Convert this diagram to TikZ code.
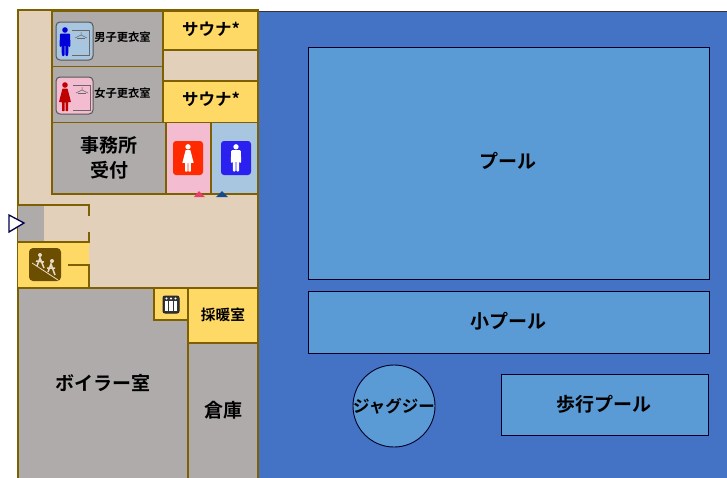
\documentclass[tikz,border=0pt]{standalone}
\usepackage{fontspec}
\setmainfont{Noto Sans CJK JP}[BoldFont={* Bold}]
\definecolor{wallc}{HTML}{7F6000}
\definecolor{floorc}{HTML}{E2D0BA}
\definecolor{greyc}{HTML}{AFABAB}
\definecolor{saunac}{HTML}{FFD966}
\definecolor{waterc}{HTML}{4472C4}
\definecolor{poolc}{HTML}{5B9BD5}
\definecolor{pinkc}{HTML}{F4BCD0}
\definecolor{paleblue}{HTML}{A9C6E0}
\definecolor{iconred}{HTML}{FF2A00}
\definecolor{iconblue}{HTML}{2A20F0}
\definecolor{stairc}{HTML}{6B4E00}
\definecolor{markpink}{HTML}{E8406E}
\definecolor{marknavy}{HTML}{124A8C}
\tikzset{
  room/.style = {draw=wallc, line width=1.3pt},
  greyroom/.style = {room, fill=greyc},
  yellowroom/.style = {room, fill=saunac},
  wall/.style = {draw=wallc, line width=1.3pt},
  pool/.style = {draw=black!85!blue, line width=.9pt, fill=poolc},
  big/.style = {font=\fontsize{19}{25}\selectfont\bfseries},
  mid/.style = {font=\fontsize{16.5}{20}\selectfont\bfseries},
  small/.style = {font=\fontsize{11.3}{13}\selectfont\bfseries},
  % standing figures, origin at the feet
  pics/manfig/.style = {code = {
    \fill[#1] (0,-26) circle (2.8);
    \fill[#1, rounded corners=1pt] (-5,-22.5) -- (5,-22.5) -- (5.5,-9) -- (3.6,-9) -- (3.4,-12) -- (3.2,0) -- (.5,0) -- (.4,-11) -- (-.4,-11) -- (-.5,0) -- (-3.2,0) -- (-3.4,-12) -- (-3.6,-9) -- (-5.5,-9) -- cycle;
  }},
  pics/womanfig/.style = {code = {
    \fill[#1] (0,-26) circle (2.8);
    \fill[#1, rounded corners=.5pt] (-2.5,-22.5) -- (2.5,-22.5) -- (6,-9) -- (3,-9) -- (3,0) -- (.5,0) -- (.5,-9) -- (-.5,-9) -- (-.5,0) -- (-3,0) -- (-3,-9) -- (-6,-9) -- cycle;
  }},
  % hanger and rail of the locker icons
  pics/rail/.style = {code = {
    \draw[greyc!60!black, line width=.7pt] (-17,-25) -- (0,-25) -- (0,0) -- (-17,0);
    \draw[greyc!60!black, line width=.5pt] (-14,-17) -- (-8,-20) -- (-2,-17) (-8,-20) -- (-8,-23);
    \draw[greyc!60!black, line width=.4pt] (-12,-17) -- (-4,-17);
  }}
}
\begin{document}
\begin{tikzpicture}[x=1pt, y=-1pt]
\useasboundingbox (0,0) rectangle (727,477);
\clip (0,0) rectangle (727,477);

% water hall
\fill[waterc] (258,11) rectangle (727,490);
\draw[black!80, line width=1pt] (258,11) -- (727,11);

% floor
\draw[room, fill=floorc] (18,10) rectangle (258,490);

% rooms along the top
\draw[greyroom] (52,11) rectangle (163,66.5);
\draw[greyroom] (52,66.5) rectangle (163,122.5);
\draw[yellowroom] (163,11) rectangle (258,50);
\draw[yellowroom] (163,81) rectangle (258,122.5);
\draw[greyroom] (52,122.5) rectangle (166,194);
\draw[room, fill=pinkc] (166,122.5) rectangle (211,194);
\draw[room, fill=paleblue] (211,122.5) rectangle (258,194);

% entrance
\fill[greyc] (18,205) rectangle (44,242);
\draw[wall] (18,205) -- (89,205) -- (89,216);
\draw[wall] (89,232) -- (89,242) -- (18,242);
\draw[draw=black!70!blue, line width=1.3pt, fill=white] (9,215) -- (24,223) -- (9,232) -- cycle;

% stairs
\fill[saunac] (18,243) rectangle (89,288);
\draw[wall] (68,265) -- (89,265) -- (89,288);
\fill[stairc, rounded corners=4pt] (29,248) rectangle (61,281);
\draw[floorc!80!white, line width=.8pt] (32,263) -- (58,280);
\fill[floorc!80!white] (40,255) circle (2) (52,261) circle (2);
\draw[floorc!80!white, line width=1.5pt] (37,266) -- (40,258) -- (44,268) (36,261) -- (44,262);
\draw[floorc!80!white, line width=1.5pt] (48,272) -- (51,264) -- (55,275) (47,268) -- (55,268);

% lower rooms
\draw[greyroom] (18,288) rectangle (188,490);
\draw[greyroom] (188,343) rectangle (258,490);
\draw[yellowroom] (154,288) rectangle (188,320);
\draw[yellowroom] (188,288) rectangle (258,343);
\draw[wall] (18,288) -- (258,288);

% pools
\draw[pool] (308,47) rectangle (709,279);
\draw[pool] (308,291) rectangle (709,353);
\draw[pool] (501,374) rectangle (708,435);
\draw[pool] (394,406) circle (41);

% locker icons
\draw[greyc!50!black, line width=1pt, rounded corners=4pt, fill=paleblue] (56,22) rectangle (93,60);
\pic at (65,56) {manfig={blue!85!black}};
\pic at (89,55) {rail};
\draw[greyc!50!black, line width=1pt, rounded corners=4pt, fill=pinkc] (56,77) rectangle (93,114);
\pic at (65,111) {womanfig={red!75!black}};
\pic at (90,110) {rail};

% toilet icons
\fill[iconred, rounded corners=3pt] (173,141) rectangle (203,175);
\pic[scale=.95] at (188,171.5) {womanfig=white};
\fill[iconblue, rounded corners=3pt] (221,141) rectangle (251,175);
\pic[scale=.95] at (236,171.5) {manfig=white};
\fill[markpink] (194,197) -- (199,191) -- (205,197) -- cycle;
\fill[marknavy] (216,197) -- (222,191) -- (228,197) -- cycle;

% elevator icon
\draw[black!85, line width=1pt, fill=black!80, rounded corners=2pt] (163,296) rectangle (179,313);
\foreach \ex in {166.5,171,175.5} {
  \fill[white] (\ex,298.5) circle (1.2);
  \fill[white] (\ex-1.7,300.5) rectangle (\ex+1.7,311);
}

% labels
\node[small] (menroom) at (122.5,37.5) {男子更衣室};
\node[small] (womenroom) at (122.5,93.5) {女子更衣室};
\node[mid] (saunaone) at (211,29.5) {サウナ*};
\node[mid] (saunatwo) at (211,99.5) {サウナ*};
\node[big, align=center] (office) at (109,158) {事務所\\受付};
\node[big] (mainpool) at (508,161) {プール};
\node[big] (smallpool) at (508,321) {小プール};
\node[big] (walkpool) at (604,404) {歩行プール};
\node[mid] (jacuzzi) at (394,406) {ジャグジー};
\node[big] (boiler) at (103,383) {ボイラー室};
\node[big] (store) at (223,410) {倉庫};
\node[font=\fontsize{14.7}{17}\selectfont\bfseries] (warm) at (223,315) {採暖室};
\end{tikzpicture}
\end{document}
